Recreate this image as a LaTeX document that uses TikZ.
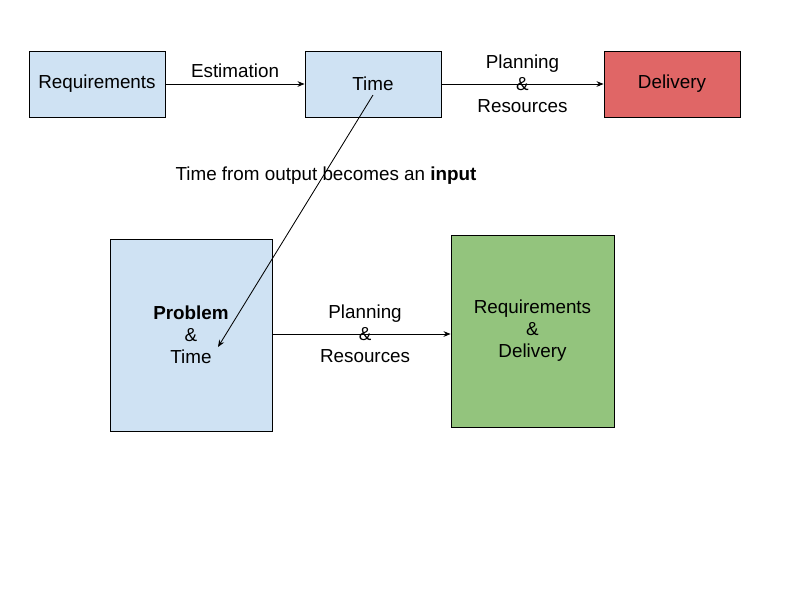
\documentclass[tikz,border=0pt]{standalone}
\usepackage{fontspec}
\setmainfont{Liberation Sans}
\usepackage{xcolor}
\usepackage{tikz}
\usetikzlibrary{arrows.meta}
\definecolor{PTBlue}{HTML}{CFE2F3}
\definecolor{PTRed}{HTML}{E06666}
\definecolor{PTGreen}{HTML}{93C47D}

\begin{document}
\begin{tikzpicture}[x=0.025cm,y=-0.025cm,
  every node/.style={font=\fontsize{13.4}{15.6}\selectfont},
  stagebox/.style={draw=black,line width=0.6pt,inner sep=0pt,align=center},
  flow/.style={draw=black,line width=0.6pt,-{Stealth[length=5pt,width=4pt]}}]
\path[use as bounding box] (0,0) rectangle (800,600);
\node[stagebox,fill=PTBlue,minimum width=136*0.025cm,minimum height=66*0.025cm] (req) at (97,84) {Requirements};
\node[stagebox,fill=PTBlue,minimum width=136*0.025cm,minimum height=66*0.025cm] (time) at (373,84) {Time};
\node[stagebox,fill=PTRed,minimum width=136*0.025cm,minimum height=66*0.025cm] (deliv) at (672,84) {Delivery};
\node[stagebox,fill=PTBlue,minimum width=162*0.025cm,minimum height=192*0.025cm] (probtime) at (191,335) {\textbf{Problem}\\\&\\Time};
\node[stagebox,fill=PTGreen,minimum width=163*0.025cm,minimum height=192*0.025cm] (reqdeliv) at (532.5,331) {Requirements\\\&\\Delivery};
\draw[flow] (req) -- node[above=1pt] (estlbl) {Estimation} (time);
\draw[flow] (time) -- node[align=center] (planlbl) {Planning\\\&\\Resources} (deliv);
\draw[flow] (probtime.east) ++(0,-1) coordinate (pstart) (pstart) -- node[pos=0.52,align=center] (planlbl2) {Planning\\\&\\Resources} (reqdeliv.west |- pstart);
\coordinate (tstart) at (373,95);
\coordinate (pend) at (218,347);
\draw[flow] (tstart) -- (pend);
\node (inputlbl) at (326,176) {Time from output becomes an \textbf{input}};
\end{tikzpicture}
\end{document}
